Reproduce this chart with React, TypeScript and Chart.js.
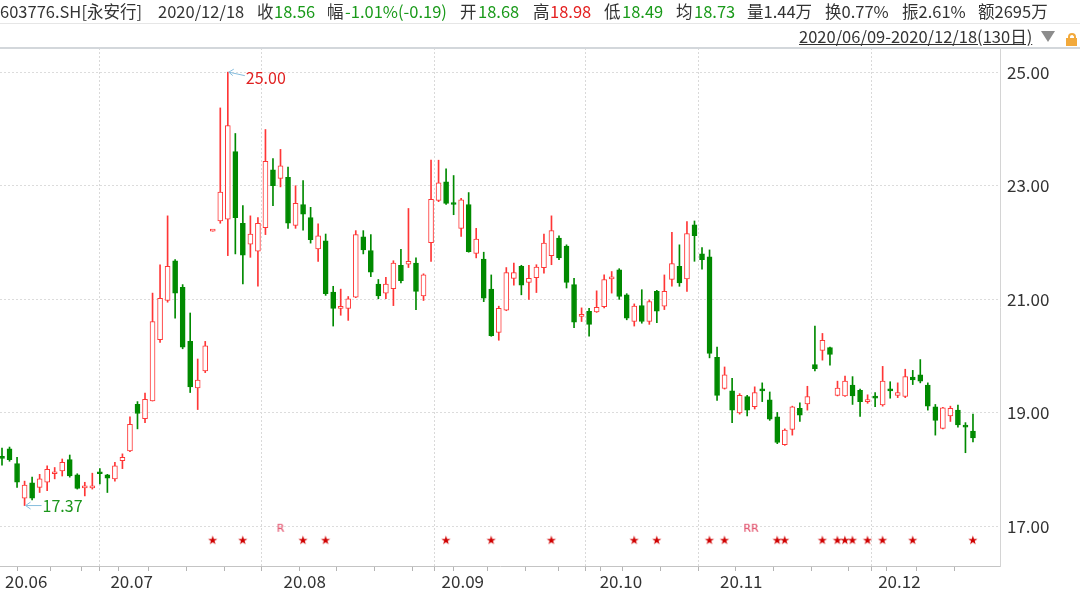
import React, { useEffect, useRef } from 'react';
import { Chart, registerables } from 'chart.js';

Chart.register(...registerables);

// ---- data ----
const opens = [
  18.22, 18.37, 18.11, 17.50, 17.77, 17.69, 17.78, 17.93, 17.98, 18.18,
  17.91, 17.68, 17.68, 17.95, 17.91, 17.84, 18.16, 18.33, 19.15, 18.90,
  19.21, 20.29, 20.98, 21.68, 21.21, 20.26, 19.44, 19.74, 22.20, 22.38,
  22.41, 23.60, 22.34, 21.97, 21.85, 22.26, 23.28, 23.13, 23.15, 22.30,
  22.67, 22.44, 21.89, 22.03, 21.13, 20.84, 20.84, 21.04, 22.10, 21.86,
  21.27, 21.11, 21.19, 21.60, 21.62, 21.64, 21.06, 22.00, 22.74, 23.07,
  22.69, 22.25, 22.67, 21.81, 21.71, 21.18, 20.42, 20.81, 21.37, 21.58,
  21.30, 21.38, 21.56, 21.77, 22.08, 21.94, 21.26, 20.70, 20.79, 20.78,
  20.87, 21.36, 21.52, 21.08, 20.61, 20.89, 20.61, 21.14, 20.88, 21.35,
  21.58, 21.36, 22.31, 21.80, 21.75, 19.98, 19.43, 19.39, 19.00, 19.29,
  19.11, 19.41, 19.23, 18.93, 18.44, 18.71, 19.08, 19.16, 19.85, 20.10,
  20.15, 19.31, 19.30, 19.49, 19.40, 19.20, 19.28, 19.14, 19.41, 19.31,
  19.29, 19.63, 19.67, 19.49, 19.11, 18.73, 18.95, 19.05, 18.77, 18.68,
];
const highs = [
  18.38, 18.40, 18.22, 17.80, 17.87, 17.92, 18.07, 18.04, 18.19, 18.26,
  17.93, 17.78, 17.94, 18.02, 17.92, 18.13, 18.28, 18.93, 19.20, 19.35,
  21.11, 21.61, 22.47, 21.70, 21.26, 20.76, 19.95, 20.26, 22.20, 24.37,
  25.00, 23.92, 22.65, 22.47, 22.44, 23.99, 23.48, 23.64, 23.33, 23.00,
  23.09, 22.62, 22.33, 22.15, 21.23, 21.18, 21.05, 22.21, 22.21, 22.14,
  21.35, 21.39, 21.68, 21.88, 22.60, 21.73, 21.45, 23.45, 23.45, 23.30,
  23.18, 22.78, 22.88, 22.25, 21.83, 21.43, 20.88, 21.56, 21.64, 21.60,
  21.60, 21.61, 22.15, 22.47, 22.12, 21.96, 21.37, 20.85, 20.84, 21.15,
  21.43, 21.49, 21.54, 21.10, 20.92, 21.17, 20.99, 21.16, 21.43, 22.18,
  21.96, 22.37, 22.38, 21.91, 21.87, 20.16, 19.81, 19.61, 19.34, 19.31,
  19.46, 19.53, 19.37, 19.01, 18.72, 19.12, 19.18, 19.47, 20.53, 20.40,
  20.16, 19.56, 19.65, 19.64, 19.42, 19.32, 19.36, 19.82, 19.55, 19.53,
  19.77, 19.75, 19.94, 19.53, 19.15, 19.10, 19.12, 19.14, 18.83, 18.98,
];
const lows = [
  18.08, 18.15, 17.69, 17.37, 17.47, 17.60, 17.63, 17.84, 17.89, 17.87,
  17.66, 17.54, 17.66, 17.75, 17.60, 17.80, 18.02, 18.32, 18.72, 18.83,
  19.21, 20.24, 20.95, 20.67, 20.13, 19.36, 19.06, 19.71, 22.20, 22.34,
  21.77, 21.80, 21.27, 21.74, 21.23, 22.14, 22.65, 22.98, 22.25, 22.25,
  22.22, 21.99, 21.67, 21.07, 20.53, 20.72, 20.63, 21.03, 21.80, 21.40,
  21.01, 21.01, 20.89, 21.29, 21.56, 20.82, 20.98, 21.67, 22.72, 22.67,
  22.49, 22.11, 21.83, 21.73, 20.96, 20.35, 20.28, 20.80, 21.25, 21.08,
  21.00, 21.12, 21.46, 21.61, 21.70, 21.20, 20.50, 20.61, 20.35, 20.77,
  20.85, 21.11, 21.00, 20.64, 20.53, 20.58, 20.56, 20.59, 20.82, 21.23,
  21.23, 21.14, 21.67, 21.53, 19.97, 19.22, 19.42, 18.83, 18.98, 18.95,
  19.07, 19.20, 18.87, 18.46, 18.43, 18.61, 18.85, 19.05, 19.74, 19.93,
  19.84, 19.30, 19.29, 19.15, 18.94, 19.17, 19.11, 19.12, 19.26, 19.27,
  19.27, 19.50, 19.53, 19.05, 18.61, 18.72, 18.85, 18.75, 18.30, 18.49,
];
const closes = [
  18.20, 18.18, 17.78, 17.73, 17.50, 17.84, 18.01, 17.96, 18.13, 17.89,
  17.67, 17.70, 17.70, 17.93, 17.85, 18.07, 18.22, 18.80, 18.99, 19.24,
  20.61, 21.02, 21.58, 21.11, 20.16, 19.46, 19.58, 20.18, 22.20, 22.89,
  24.06, 22.44, 21.78, 22.15, 22.34, 23.43, 23.00, 23.35, 22.34, 22.69,
  22.50, 22.05, 22.12, 21.10, 20.84, 20.87, 21.01, 22.14, 21.87, 21.48,
  21.06, 21.27, 21.64, 21.33, 21.67, 21.14, 21.43, 22.76, 23.05, 22.69,
  22.67, 22.75, 21.84, 22.06, 21.02, 20.36, 20.84, 21.47, 21.47, 21.25,
  21.37, 21.57, 21.99, 22.21, 21.73, 21.30, 20.60, 20.72, 20.56, 20.86,
  21.35, 21.38, 21.05, 20.67, 20.88, 20.61, 20.96, 20.79, 21.14, 21.63,
  21.29, 22.16, 22.12, 21.70, 20.05, 19.31, 19.67, 19.05, 19.31, 19.05,
  19.36, 19.39, 18.89, 18.48, 18.70, 19.11, 18.96, 19.29, 19.78, 20.28,
  20.03, 19.44, 19.56, 19.30, 19.20, 19.23, 19.26, 19.56, 19.39, 19.36,
  19.64, 19.58, 19.56, 19.12, 18.87, 19.09, 19.08, 18.79, 18.75, 18.56,
];

const monthLabels = ['20.06', '20.07', '20.08', '20.09', '20.10', '20.11', '20.12'];
const monthStartIndex = [0, 14, 37, 58, 79, 95, 116];
const weekStartIndex = [4, 9, 12, 17, 22, 27, 32, 42, 47, 52, 57, 62, 67, 72, 76, 80, 85, 90, 100, 105, 110, 115, 119, 124];
const yTicks = [17, 19, 21, 23, 25];

const starIndex = [28, 32, 40, 43, 59, 65, 73, 84, 87, 94, 96, 103, 104, 109, 111, 112, 113, 115, 117, 121, 129];
const starLevel = 16.76;
const rMarkIndex = [37, 99, 100];
const rMarkLevel = 16.97;

const highMark = { index: 30, value: 25.0 };
const lowMark = { index: 3, value: 17.37 };

const headerItems = [
  { x: 0, text: '603776.SH[永安行]', color: '#333' },
  { x: 158, text: '2020/12/18', color: '#333' },
  { x: 257, text: '收', color: '#333' },
  { x: 274, text: '18.56', color: '#1a9a1a' },
  { x: 327, text: '幅', color: '#333' },
  { x: 345, text: '-1.01%(-0.19)', color: '#1a9a1a' },
  { x: 460, text: '开', color: '#333' },
  { x: 478, text: '18.68', color: '#1a9a1a' },
  { x: 533, text: '高', color: '#333' },
  { x: 550, text: '18.98', color: '#e42020' },
  { x: 604, text: '低', color: '#333' },
  { x: 622, text: '18.49', color: '#1a9a1a' },
  { x: 676, text: '均', color: '#333' },
  { x: 694, text: '18.73', color: '#1a9a1a' },
  { x: 747, text: '量1.44万', color: '#333' },
  { x: 825, text: '换0.77%', color: '#333' },
  { x: 902, text: '振2.61%', color: '#333' },
  { x: 978, text: '额2695万', color: '#333' },
];
const rangeText = '2020/06/09-2020/12/18(130日)';

const FONT = "'Noto Sans CJK SC', 'Noto Sans', sans-serif";
const UP = '#ff3636';
const DOWN = '#008a00';

function makeGlyph(ch: string, color: string, font: string, w: number, h: number) {
  const c = document.createElement('canvas');
  c.width = w;
  c.height = h;
  const g = c.getContext('2d')!;
  g.fillStyle = color;
  g.font = font;
  g.textAlign = 'center';
  g.textBaseline = 'middle';
  g.fillText(ch, w / 2, h / 2 + 0.5);
  return c;
}

const markPlugin = {
  id: 'extremeMarks',
  afterDatasetsDraw(chart: any) {
    const { ctx, scales } = chart;
    const x = scales.x, y = scales.y;
    ctx.save();
    ctx.lineWidth = 1;
    ctx.strokeStyle = '#86bddd';
    ctx.font = `16px ${FONT}`;
    ctx.textBaseline = 'middle';
    ctx.textAlign = 'left';
    // high
    const hx = x.getPixelForValue(highMark.index);
    const hy = y.getPixelForValue(highMark.value);
    ctx.beginPath();
    ctx.moveTo(hx + 1, hy);
    ctx.lineTo(hx + 17, hy + 3.5);
    ctx.moveTo(hx + 6, hy - 3);
    ctx.lineTo(hx + 1, hy);
    ctx.lineTo(hx + 5, hy + 3.5);
    ctx.stroke();
    ctx.fillStyle = '#e02020';
    ctx.fillText(highMark.value.toFixed(2), hx + 18, hy + 6);
    // low
    const lx = x.getPixelForValue(lowMark.index);
    const ly = y.getPixelForValue(lowMark.value);
    ctx.beginPath();
    ctx.moveTo(lx + 1, ly);
    ctx.lineTo(lx + 17, ly);
    ctx.moveTo(lx + 6, ly - 3.5);
    ctx.lineTo(lx + 1, ly);
    ctx.lineTo(lx + 6, ly + 3.5);
    ctx.stroke();
    ctx.fillStyle = '#1c961c';
    ctx.fillText(lowMark.value.toFixed(2), lx + 18, ly);
    ctx.restore();
  },
};

export default function App() {
  const ref = useRef<HTMLCanvasElement | null>(null);

  useEffect(() => {
    document.body.style.margin = '0';
    const idx = opens.map((_, i) => i);
    const isUp = (i: number) => closes[i] >= opens[i];
    const tickIdx = [...monthStartIndex, ...weekStartIndex].sort((a, b) => a - b);
    const star = makeGlyph('★', '#d00000', "12px 'DejaVu Sans', sans-serif", 14, 14);
    const rGlyph = makeGlyph('R', '#e0405e', "11px 'DejaVu Sans', sans-serif", 10, 13);

    const chart = new Chart(ref.current!, {
      type: 'bar',
      data: {
        datasets: [
          {
            type: 'scatter',
            data: starIndex.map((i) => ({ x: i, y: starLevel })),
            pointStyle: star as any,
            pointRadius: 6,
            order: 0,
          } as any,
          {
            type: 'scatter',
            data: rMarkIndex.map((i) => ({ x: i, y: rMarkLevel })),
            pointStyle: rGlyph as any,
            pointRadius: 5,
            order: 0,
          } as any,
          {
            type: 'bar',
            data: idx.map((i) => ({ x: i, y: [opens[i], closes[i]] })),
            backgroundColor: idx.map((i) => (isUp(i) ? '#ffffff' : DOWN)),
            borderColor: idx.map((i) => (isUp(i) ? UP : DOWN)),
            borderWidth: 1,
            borderSkipped: false,
            barThickness: 5,
            minBarLength: 2,
            grouped: false,
            order: 1,
          } as any,
          {
            type: 'bar',
            data: idx.map((i) => ({ x: i, y: [lows[i], highs[i]] })),
            backgroundColor: idx.map((i) => (isUp(i) ? UP : DOWN)),
            borderWidth: 0,
            barThickness: 1,
            minBarLength: 1,
            grouped: false,
            order: 2,
          } as any,
        ],
      },
      options: {
        animation: false,
        responsive: false,
        maintainAspectRatio: false,
        layout: { autoPadding: false, padding: { top: 48, left: 0, right: 0, bottom: 0 } },
        plugins: { legend: { display: false }, tooltip: { enabled: false } },
        scales: {
          x: {
            type: 'linear',
            min: -0.266,
            max: 132.59,
            offset: false,
            afterBuildTicks: (axis: any) => {
              axis.ticks = tickIdx.map((v) => ({ value: v }));
            },
            afterFit: (axis: any) => {
              axis.height = 26;
            },
            grid: {
              color: (ctx: any) =>
                ctx.tick && monthStartIndex.includes(ctx.tick.value) ? '#d9d9d9' : 'rgba(0,0,0,0)',
              tickColor: '#b4b4b4',
              tickLength: 5,
              lineWidth: 1,
            },
            border: { display: true, color: '#c4c4c4', width: 1, dash: [2, 2] },
            ticks: {
              autoSkip: false,
              maxRotation: 0,
              minRotation: 0,
              align: 'start',
              labelOffset: 3,
              padding: 0,
              color: '#333',
              font: { size: 17, family: FONT },
              callback: (v: any) => {
                const k = monthStartIndex.indexOf(Number(v));
                return k >= 0 ? monthLabels[k] : '';
              },
            },
          },
          y: {
            type: 'linear',
            position: 'right',
            min: 16.306,
            max: 25.425,
            afterBuildTicks: (axis: any) => {
              axis.ticks = yTicks.map((v) => ({ value: v }));
            },
            afterFit: (axis: any) => {
              axis.width = 80;
            },
            grid: { color: '#dcdcdc', drawTicks: false, lineWidth: 1 },
            border: { display: true, color: '#d4d4d4', width: 1, dash: [2, 2] },
            ticks: {
              padding: 7,
              color: '#333',
              font: { size: 17, family: FONT },
              callback: (v: any) => Number(v).toFixed(2),
            },
          },
        },
      } as any,
      plugins: [markPlugin],
    });
    return () => chart.destroy();
  }, []);

  return (
    <div style={{ position: 'fixed', left: 0, top: 0, width: 1080, height: 592, background: '#fff', fontFamily: FONT, overflow: 'hidden' }}>
      <canvas ref={ref} width={1080} height={592} style={{ position: 'absolute', left: 0, top: 0 }} />
      {headerItems.map((h, i) => (
        <span key={i} style={{ position: 'absolute', left: h.x, top: 0, fontSize: 16.5, lineHeight: '22px', color: h.color, whiteSpace: 'nowrap' }}>
          {h.text}
        </span>
      ))}
      <div style={{ position: 'absolute', left: 0, top: 23, width: 1080, height: 1, background: '#e6e6e6' }} />
      <span style={{ position: 'absolute', left: 799, top: 25, fontSize: 16.5, lineHeight: '22px', color: '#333', textDecoration: 'underline', whiteSpace: 'nowrap' }}>
        {rangeText}
      </span>
      <div style={{ position: 'absolute', left: 1041, top: 31, width: 0, height: 0, borderLeft: '7px solid transparent', borderRight: '7px solid transparent', borderTop: '11px solid #8c8c8c' }} />
      <div style={{ position: 'absolute', left: 1068, top: 33, width: 4, height: 4, border: '2px solid #f2a93b', borderBottom: 'none', borderRadius: '4px 4px 0 0' }} />
      <div style={{ position: 'absolute', left: 1066, top: 38, width: 11, height: 8, background: '#f2a93b' }} />
      <div style={{ position: 'absolute', left: 0, top: 47, width: 1080, height: 2, background: '#d3d7db' }} />
    </div>
  );
}
